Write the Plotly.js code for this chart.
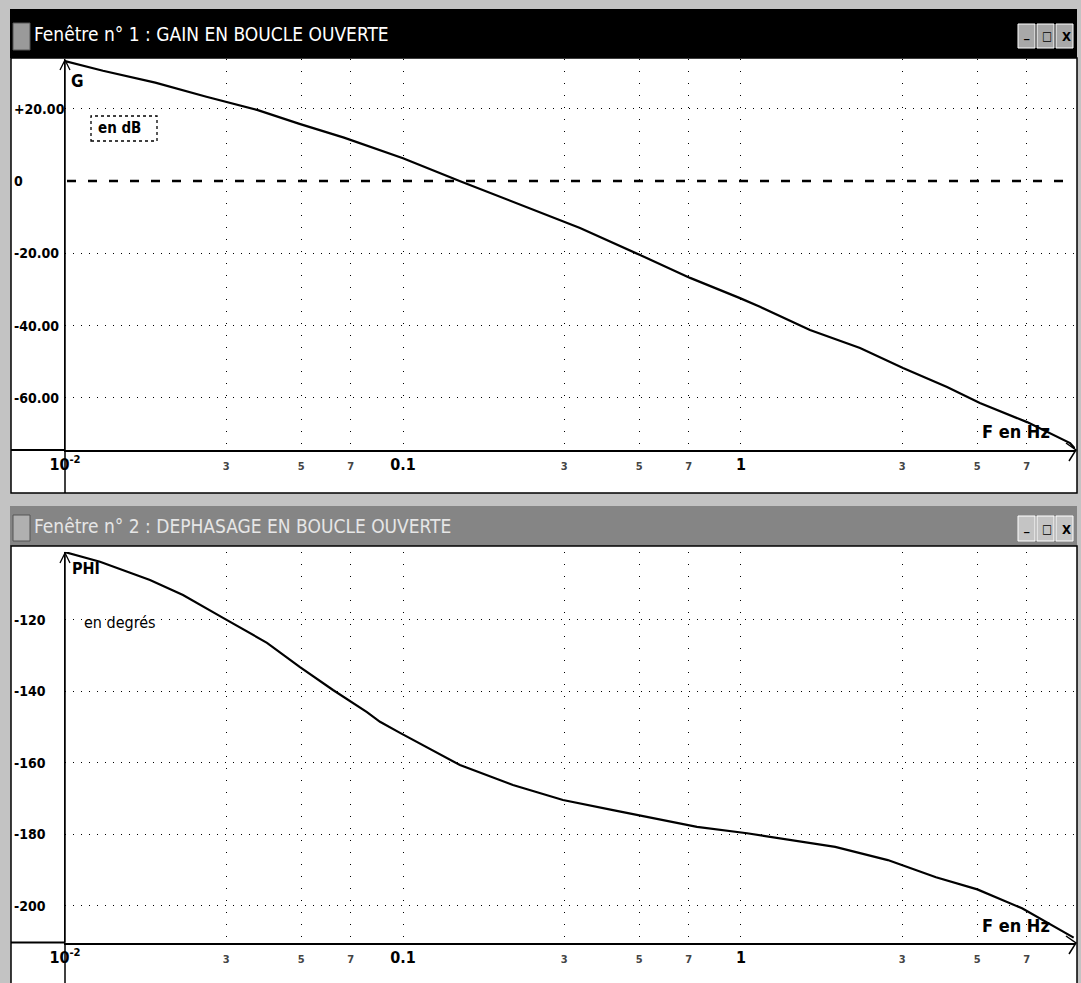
<!DOCTYPE html>
<html>
<head>
<meta charset="utf-8">
<script src="https://cdn.plot.ly/plotly-3.0.1.min.js"></script>
<style>html,body{margin:0;padding:0;background:#c3c3c3;}#chart{width:1081px;height:983px;}</style>
</head>
<body>
<div id="chart"></div>
<script>
// ---- data ----
const freqGain = [0.01, 0.01295, 0.0185, 0.0262, 0.0372, 0.0494, 0.0669, 0.0855, 0.1, 0.147, 0.2375, 0.334, 0.503, 0.707, 0.993, 1.138, 1.60, 2.25, 3.015, 4.07, 5.09, 7.02, 9.41, 9.72];
const gainDb   = [33.2, 30.5, 27.2, 23.3, 19.6, 15.8, 12.0, 8.6, 6.3, 0.0, -7.5, -13.0, -20.5, -26.8, -32.4, -34.8, -41.2, -46.2, -51.7, -57.0, -61.4, -66.7, -72.5, -74.0];
const freqPhase = [0.01, 0.01269, 0.01784, 0.02234, 0.02935, 0.03959, 0.04958, 0.06208, 0.07823, 0.0855, 0.098, 0.1474, 0.2115, 0.2974, 0.4181, 0.5272, 0.7409, 1.042, 1.304, 1.9, 2.719, 3.775, 5.002, 6.785, 9.645];
const phaseDeg  = [-101.0, -103.7, -108.8, -113.0, -119.4, -126.4, -133.2, -139.6, -145.8, -148.5, -151.6, -160.6, -166.2, -170.4, -173.2, -175.1, -177.9, -179.7, -181.1, -183.5, -187.2, -192.0, -195.4, -200.7, -208.9];
const xTickVals = [0.01, 0.03, 0.05, 0.07, 0.1, 0.3, 0.5, 0.7, 1, 3, 5, 7];
const xTickLabels = ['10<sup>-2</sup>', '3', '5', '7', '0.1', '3', '5', '7', '1', '3', '5', '7'];
const xMajorLabels = ['10<sup>-2</sup>', '0.1', '1'];
const gainTickVals = [20, 0, -20, -40, -60];
const gainTickLabels = ['+20.00', '0', '-20.00', '-40.00', '-60.00'];
const phaseTickVals = [-120, -140, -160, -180, -200];
const phaseTickLabels = ['-120', '-140', '-160', '-180', '-200'];
const windowTitles = ['Fenêtre n° 1 : GAIN EN BOUCLE OUVERTE', 'Fenêtre n° 2 : DEPHASAGE EN BOUCLE OUVERTE'];

// ---- helpers (pixel -> paper) ----
const W = 1081, H = 983;
const X = p => p / W;
const Y = p => 1 - p / H;
const F = "'DejaVu Sans Condensed','Liberation Sans Narrow','DejaVu Sans',sans-serif";
const font = (size, color, bold) => ({family: F, size: size, color: color || '#000',
  weight: bold === false ? 'normal' : 'bold', stretch: 'condensed'});

const xText = xTickLabels.map(t => xMajorLabels.includes(t)
  ? '<span style="font-size:16px;fill:#000">' + t + '</span>' : t);

const traces = [
  {x: freqGain, y: gainDb, type: 'scatter', mode: 'lines', xaxis: 'x', yaxis: 'y',
   line: {color: '#000', width: 2.2}, hoverinfo: 'skip'},
  {x: freqPhase, y: phaseDeg, type: 'scatter', mode: 'lines', xaxis: 'x2', yaxis: 'y2',
   line: {color: '#000', width: 2.2}, hoverinfo: 'skip'},
  // empty traces that bind the label axes to their subplots
  {x: [], y: [], type: 'scatter', mode: 'lines', xaxis: 'x', yaxis: 'y3', hoverinfo: 'skip'},
  {x: [], y: [], type: 'scatter', mode: 'lines', xaxis: 'x2', yaxis: 'y4', hoverinfo: 'skip'}
];

const xRange = [-2, 0.9882];
function xAx(anchor) {
  return {domain: [X(65), X(1075)], type: 'log', range: xRange, anchor: anchor,
    tickmode: 'array', tickvals: xTickVals, ticktext: xText,
    showgrid: true, gridcolor: '#000', gridwidth: 1, griddash: '1px,11px',
    showline: true, linecolor: '#000', linewidth: 2, ticks: '', ticklabelstandoff: 5,
    zeroline: false, fixedrange: true, tickfont: font(11, '#444')};
}
function yAx(anchor, dom, rng, vals) {
  return {domain: dom, range: rng, anchor: anchor, tickmode: 'array',
    tickvals: vals.filter(v => v !== 0),
    showticklabels: false, ticks: '',
    showgrid: true, gridcolor: '#000', gridwidth: 1, griddash: '1px,7px',
    showline: true, linecolor: '#000', linewidth: 1.5, zeroline: false, fixedrange: true};
}
function yLab(over, rng, vals, txt) {
  return {overlaying: over, anchor: 'free', side: 'right', position: X(12), range: rng, autorange: false,
    tickmode: 'array', tickvals: vals, ticktext: txt, ticks: '',
    ticklabelstandoff: 1, showticklabels: true,
    showgrid: false, showline: false, zeroline: false, fixedrange: true, tickfont: font(14)};
}

function rect(x0, y0, x1, y1, fill, line, layer) {
  return {type: 'rect', xref: 'paper', yref: 'paper', x0: X(x0), x1: X(x1), y0: Y(y1), y1: Y(y0),
    fillcolor: fill, line: line || {width: 0}, layer: layer || 'below'};
}
function pline(x0, y0, x1, y1, w, dash) {
  return {type: 'line', xref: 'paper', yref: 'paper', x0: X(x0), x1: X(x1), y0: Y(y0), y1: Y(y1),
    line: {color: '#000', width: w || 1.5, dash: dash || 'solid'}};
}
function path(pts, w) {
  const d = pts.map((p, i) => (i ? 'L' : 'M') + X(p[0]).toFixed(5) + ',' + Y(p[1]).toFixed(5)).join(' ');
  return {type: 'path', xref: 'paper', yref: 'paper', path: d, line: {color: '#000', width: w || 1.5}};
}

const shapes = [
  rect(10, 9, 1077, 58, '#000'),
  rect(11, 58, 1077, 493, '#fff', {color: '#000', width: 1.5}),
  rect(10, 506, 1077, 546, '#858585'),
  rect(11, 546, 1077, 984, '#fff', {color: '#000', width: 1.5}),
  pline(11, 450, 65, 450, 2),
  pline(11, 942.6, 65, 942.6, 2),
  pline(65, 493, 65, 450, 1.5),
  pline(65, 984, 65, 942.6, 1.5),
  pline(65, 60, 65, 450, 1.5),
  pline(65, 553, 65, 942.6, 1.5),
  path([[60, 70], [65, 60], [70, 70]], 1.3),
  path([[60, 563], [65, 553], [70, 563]], 1.3),
  path([[1066, 443], [1076, 450], [1069, 461]], 1.5),
  path([[1066, 936], [1076, 943], [1069, 954]], 1.5),
  {type: 'line', xref: 'paper', yref: 'y', x0: X(67), x1: X(1075), y0: 0, y1: 0,
   line: {color: '#000', width: 2.5, dash: '9px,12px'}},
  {type: 'rect', xref: 'paper', yref: 'paper', x0: X(91), x1: X(157), y0: Y(141), y1: Y(116),
   line: {color: '#000', width: 1.3, dash: 'dot'}, fillcolor: 'rgba(0,0,0,0)'},
  rect(13, 23, 30, 50, '#9a9a9a', {color: '#555', width: 1}, 'above'),
  rect(13, 515, 30, 541, '#b0b0b0', {color: '#555', width: 1}, 'above'),
  rect(1018, 24, 1035, 48, '#a8a8a8', {color: '#fff', width: 1}, 'above'),
  rect(1037, 24, 1054, 48, '#a8a8a8', {color: '#fff', width: 1}, 'above'),
  rect(1056, 24, 1073, 48, '#a8a8a8', {color: '#fff', width: 1}, 'above'),
  rect(1018, 516, 1035, 541, '#c4c4c4', {color: '#fff', width: 1}, 'above'),
  rect(1037, 516, 1054, 541, '#c4c4c4', {color: '#fff', width: 1}, 'above'),
  rect(1056, 516, 1073, 541, '#c4c4c4', {color: '#fff', width: 1}, 'above')
];

function txt(text, x, y, f) {
  return {text: text, xref: 'paper', yref: 'paper', x: X(x), y: Y(y),
    xanchor: 'left', yanchor: 'middle', showarrow: false, font: f};
}

const annotations = [
  txt(windowTitles[0], 32, 34, font(19, '#fff', false)),
  txt(windowTitles[1], 32, 526, font(19, '#e6e6e6', false)),
  txt('G', 69, 81, font(17)),
  txt('en dB', 96, 128, font(15)),
  txt('F en Hz', 980, 432, font(18)),
  txt('PHI', 70, 568, font(16)),
  txt('en degrés', 82, 622, font(16, '#000', false)),
  txt('F en Hz', 980, 925, font(18)),
  txt('_', 1022, 33, font(12)),
  txt('□', 1040, 36, font(12)),
  txt('X', 1060, 36, font(13)),
  txt('_', 1022, 526, font(12)),
  txt('□', 1040, 529, font(12)),
  txt('X', 1060, 529, font(13))
];

const gainRange = [-74.41, 33.75];
const phaseRange = [-210.3, -100.97];
const layout = {
  width: W, height: H, margin: {l: 0, r: 0, t: 0, b: 0},
  paper_bgcolor: '#c3c3c3', plot_bgcolor: 'rgba(0,0,0,0)', showlegend: false,
  xaxis: xAx('y'),
  yaxis: yAx('x', [1 - 450 / H, 1 - 59 / H], gainRange, gainTickVals),
  yaxis3: yLab('y', gainRange, gainTickVals, gainTickLabels),
  xaxis2: xAx('y2'),
  yaxis2: yAx('x2', [1 - 942.6 / H, 1 - 552 / H], phaseRange, phaseTickVals),
  yaxis4: yLab('y2', phaseRange, phaseTickVals, phaseTickLabels),
  shapes: shapes, annotations: annotations
};

Plotly.newPlot('chart', traces, layout, {displayModeBar: false, staticPlot: true});
</script>
</body>
</html>
